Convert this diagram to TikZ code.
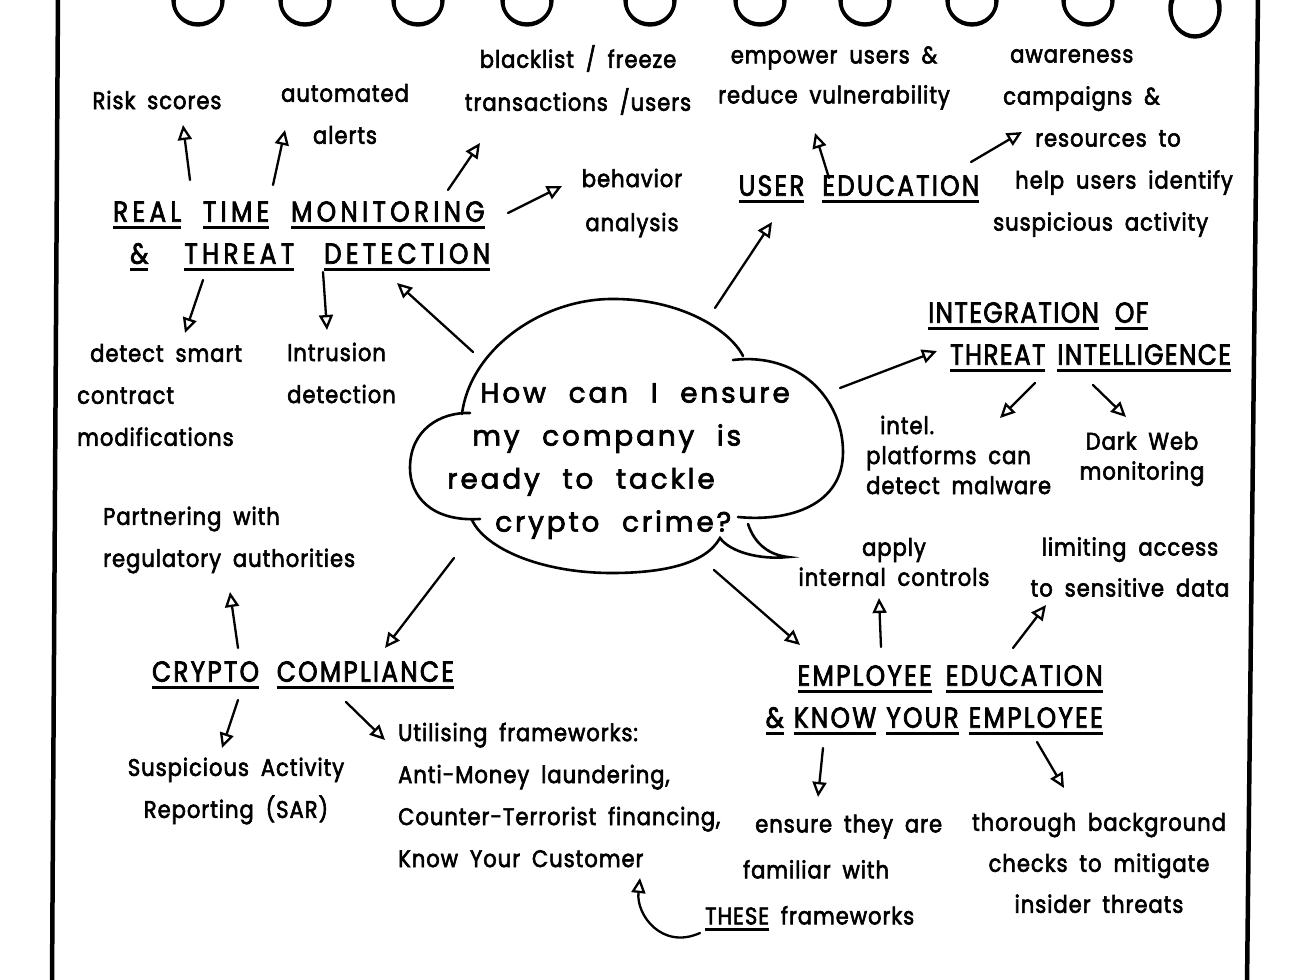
\documentclass[tikz,border=0pt]{standalone}
\usepackage{fontspec}
\newfontfamily\hand{Poppins}[LetterSpace=4,WordSpace=1.8,FakeBold=2.5,FakeStretch=0.88]
\newfontfamily\handcap{Poppins}[LetterSpace=8,WordSpace=2,FakeBold=2.5,FakeStretch=0.85]
\newfontfamily\handq{Poppins}[LetterSpace=10,WordSpace=2.2,FakeBold=2.5]
\usetikzlibrary{arrows.meta,calc}
\newcommand\myul[1]{\setbox0=\hbox{#1}\rlap{\rule[-7pt]{\wd0}{3pt}}\box0\relax}
\tikzset{
  txt/.style={inner sep=0pt, align=center, font={\hand\fontsize{24}{42}\selectfont}},
  txtt/.style={txt, font={\hand\fontsize{24}{30}\selectfont}},
  head/.style={inner sep=0pt, align=center, font={\handcap\fontsize{29}{42}\selectfont}},
  ques/.style={inner sep=0pt, align=left, font={\handq\fontsize{28}{43}\selectfont}},
  arr/.style={line width=2.3pt, line cap=round, -{Triangle[open,length=15pt,width=14pt]}},
  ink/.style={line width=2.6pt, line cap=round},
  border/.style={line width=4.5pt},
  ring/.style={line width=3.4pt}
}
\begin{document}
\begin{tikzpicture}[x=1pt,y=-1pt]
\useasboundingbox (0,0) rectangle (1304,980);
\fill[white] (0,0) rectangle (1304,980);
% notebook page
\draw[border] (58,-5) -- (52,985);
\draw[border] (1258,-5) -- (1247,985);
\foreach \rx in {198,305,418,527,650,760,865,972,1088}{
  \draw[ring] (\rx,0) ellipse (25 and 24);
  \draw[ring] (\rx,2) ellipse (24 and 23);
}
\draw[ring] (1195,8) ellipse (25 and 28);
\draw[ring] (1195,10) ellipse (24 and 27);

% central question cloud
\node[ques, anchor=west] (q) at (447,461) {\hspace*{33pt}How can I ensure\\\hspace*{25pt}my company is\\ready to tackle\\\hspace*{48pt}crypto crime?};
\draw[ink] (462,414) .. controls (470,350) and (540,300) .. (610,299)
  .. controls (680,298) and (730,330) .. (743,356);
\draw[ink] (733,360) .. controls (800,352) and (843,400) .. (843,452)
  .. controls (843,505) and (790,522) .. (738,517);
\draw[ink] (748,524) .. controls (755,545) and (770,555) .. (788,557)
  .. controls (760,560) and (730,552) .. (720,538)
  .. controls (705,565) and (660,573) .. (612,573)
  .. controls (540,573) and (485,548) .. (472,520);
\draw[ink] (480,519) .. controls (430,522) and (410,495) .. (410,468)
  .. controls (410,430) and (440,412) .. (470,413);

% Real time monitoring
\node[head, align=left, anchor=west, font={\handcap\fontsize{29}{42}\selectfont\addfontfeatures{LetterSpace=15}}] (rtm) at (113,236) {\myul{REAL} \myul{TIME} \myul{MONITORING}\\\hspace*{17pt}\myul{\&}\hspace*{36pt}\myul{THREAT}\hspace*{30pt}\myul{DETECTION}};
\node[txt] (risk) at (157,100) {Risk scores};
\node[txt] (alerts) at (345,114) {automated\\alerts};
\node[txt, font={\hand\fontsize{24}{43}\selectfont}] (black) at (578,80) {blacklist / freeze\\transactions /users};
\node[txt, font={\hand\fontsize{24}{44}\selectfont}] (behav) at (632,203) {behavior\\analysis};
\node[txt, align=left, anchor=west] (smart) at (77,395) {\hspace*{13pt}detect smart\\contract\\modifications};
\node[txt, align=left, anchor=west] (intr) at (287,373) {Intrusion\\detection};

% User education
\node[head] (usered) at (859,189) {\myul{USER} \myul{EDUCATION}};
\node[txt, font={\hand\fontsize{24}{40}\selectfont}] (empower) at (834,78) {empower users \&\\reduce vulnerability};
\node[txt, align=left, anchor=west] (aware) at (993,143) {\hspace*{17pt}awareness\\\hspace*{10pt}campaigns \&\\\hspace*{42pt}resources to\\\hspace*{22pt}help users identify\\suspicious activity};

% Threat intelligence
\node[head, align=left, anchor=west, font={\handcap\fontsize{29}{42}\selectfont\addfontfeatures{LetterSpace=5}}] (integ) at (928,337) {\myul{INTEGRATION} \myul{OF}\\\hspace*{22pt}\myul{THREAT}\hspace*{12pt}\myul{INTELLIGENCE}};
\node[txtt, align=left, anchor=west] (intel) at (866,455) {\hspace*{14pt}intel.\\platforms can\\detect malware};
\node[txtt] (dark) at (1142,459) {Dark Web\\monitoring};

% Crypto compliance
\node[head] (cc) at (303,675) {\myul{CRYPTO} \myul{COMPLIANCE}};
\node[txt, align=left, anchor=west] (partner) at (103,540) {Partnering with\\regulatory authorities};
\node[txt] (sar) at (236,791) {Suspicious Activity\\Reporting (SAR)};
\node[txt, align=left, anchor=west] (util) at (398,795) {Utilising frameworks:\\Anti-Money laundering,\\Counter-Terrorist financing,\\Know Your Customer};

% Employee education
\node[head, align=right, anchor=east] (ee) at (1103,700) {\myul{EMPLOYEE}\hspace*{14pt}\myul{EDUCATION}\\\myul{\&}\hspace*{10pt}\myul{KNOW}\hspace*{10pt}\myul{YOUR}\hspace*{10pt}\myul{EMPLOYEE}};
\node[txtt] (apply) at (894,562) {apply\\internal controls};
\node[txt, font={\hand\fontsize{24}{41}\selectfont}] (limit) at (1130,567) {limiting access\\to sensitive data};
\node[txt, align=left, anchor=west, font={\hand\fontsize{24}{46}\selectfont}] (ensure) at (705,873) {\hspace*{50pt}ensure they are\\\hspace*{38pt}familiar with\\\myul{THESE} frameworks};
\node[txt, font={\hand\fontsize{24}{41}\selectfont}] (thor) at (1099,863) {thorough background\\checks to mitigate\\insider threats};

% connectors
\draw[arr] ($(rtm.west)+(77,-56)$) -- ($(risk)+(26,25)$);
\draw[arr] ($(rtm.west)+(160,-51)$) -- ($(alerts)+(-60,16)$);
\draw[arr] ($(rtm.west)+(335,-46)$) -- ($(black)+(-98,63)$);
\draw[arr] ($(rtm.west)+(395,-23)$) -- ($(behav)+(-70,-17)$);
\draw[arr] ($(rtm.west)+(90,44)$) -- ($(smart.west)+(108,-62)$);
\draw[arr] ($(rtm.west)+(210,36)$) -- ($(intr.west)+(40,-43)$);
\draw[arr] ($(q.west)+(26,-109)$) -- ($(rtm.west)+(284,47)$);
\draw[arr] ($(q.west)+(268,-153)$) -- ($(usered)+(-87,33)$);
\draw[arr] ($(usered)+(-30,-11)$) -- ($(empower)+(-19,55)$);
\draw[arr] ($(usered)+(112,-27)$) -- ($(aware.west)+(29,-11)$);
\draw[arr] ($(q.west)+(393,-73)$) -- ($(integ.west)+(9,14)$);
\draw[arr] ($(integ.west)+(107,46)$) -- ($(intel.west)+(134,-37)$);
\draw[arr] ($(integ.west)+(165,48)$) -- ($(dark)+(-16,-42)$);
\draw[arr] ($(q.west)+(7,97)$) -- ($(cc)+(82,-27)$);
\draw[arr] ($(cc)+(-65,-27)$) -- ($(partner.west)+(127,52)$);
\draw[arr] ($(cc)+(-65,25)$) -- ($(sar)+(-14,-43)$);
\draw[arr] ($(cc)+(43,27)$) -- ($(util.west)+(-13,-55)$);
\draw[arr] ($(q.west)+(267,109)$) -- ($(ee.east)+(-303,-55)$);
\draw[arr] ($(ee.east)+(-222,-53)$) -- ($(apply)+(-15,36)$);
\draw[arr] ($(ee.east)+(-90,-52)$) -- ($(limit)+(-84,38)$);
\draw[arr] ($(ee.east)+(-280,48)$) -- ($(ensure.west)+(113,-76)$);
\draw[arr] ($(ee.east)+(-66,42)$) -- ($(thor)+(-35,-75)$);
\draw[arr] ($(ensure.west)+(-5,60)$) .. controls ($(ensure.west)+(-43,77)$) and ($(util.west)+(238,120)$) .. ($(util.west)+(242,83)$);
\end{tikzpicture}
\end{document}
